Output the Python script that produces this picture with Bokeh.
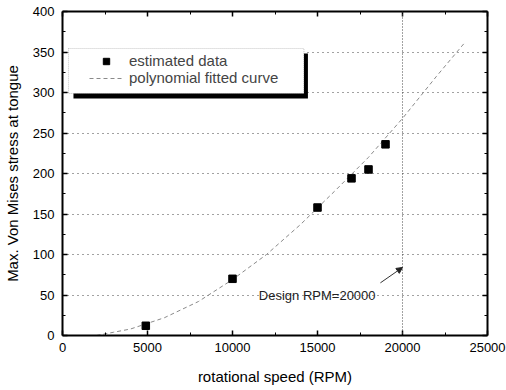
from bokeh.plotting import figure
from bokeh.models import (LinearAxis, FixedTicker, Legend, LegendItem, Span, Arrow,
                          NormalHead, Label, BoxAnnotation, Range1d, CustomJSTickFormatter)
from bokeh.embed import file_html
from bokeh.resources import INLINE

# ---- data ----
rpm = [4900, 10000, 15000, 17000, 18000, 19000]
stress = [12, 70, 158, 194, 205, 236]

fit_rpm = [2000, 3000, 4000, 6000, 8000, 10000, 12000, 14000, 16000, 18000, 20000, 22000, 23600]
fit_stress = [0, 4, 8, 22, 42, 69, 100, 137, 178, 220, 268, 320, 360]

x_ticks = [0, 5000, 10000, 15000, 20000, 25000]
x_minor = [2500, 7500, 12500, 17500, 22500]
y_ticks = [0, 50, 100, 150, 200, 250, 300, 350, 400]
y_minor = [25, 75, 125, 175, 225, 275, 325, 375]

design_rpm = 20000
design_label = "Design RPM=20000"
arrow_from = (18700, 65)
arrow_to = (20000, 84)
label_pos = (11550, 40)

FONT = "Liberation Sans"

p = figure(width=506, height=390, output_backend="svg", toolbar_location=None,
           x_range=Range1d(0, 25000), y_range=Range1d(0, 400),
           min_border_left=61, min_border_right=19, min_border_top=11, min_border_bottom=55,
           x_axis_label="rotational speed (RPM)",
           y_axis_label="Max. Von Mises stress at tongue")
p.outline_line_color = None
p.background_fill_color = "white"
p.border_fill_color = "white"

def style_axis(ax, ticks, minor, labels=True):
    ax.ticker = FixedTicker(ticks=ticks, minor_ticks=minor)
    ax.axis_line_color = "black"
    ax.axis_line_width = 2
    ax.major_tick_in = 5
    ax.major_tick_out = 0
    ax.minor_tick_in = 3
    ax.minor_tick_out = 0
    ax.major_tick_line_color = "black"
    ax.minor_tick_line_color = "black"
    ax.major_tick_line_width = 1.5
    ax.minor_tick_line_width = 1
    if labels:
        ax.major_label_text_font = FONT
        ax.major_label_text_font_size = "13px"
        ax.major_label_text_color = "black"
        ax.axis_label_text_font = FONT
        ax.axis_label_text_font_size = "15px"
        ax.axis_label_text_font_style = "normal"
        ax.axis_label_text_color = "black"
    else:
        ax.formatter = CustomJSTickFormatter(code="return ''")
        ax.major_label_standoff = 0

style_axis(p.xaxis[0], x_ticks, x_minor)
style_axis(p.yaxis[0], y_ticks, y_minor)
p.xaxis[0].major_label_standoff = 7
p.xaxis[0].axis_label_standoff = 13
p.yaxis[0].major_label_standoff = 8
p.yaxis[0].axis_label_standoff = 9

top = LinearAxis()
style_axis(top, x_ticks, x_minor, labels=False)
p.add_layout(top, "above")
right = LinearAxis()
style_axis(right, y_ticks, y_minor, labels=False)
p.add_layout(right, "right")

p.xgrid.visible = False
p.ygrid.grid_line_color = "#444444"
p.ygrid.grid_line_dash = "1 4"
p.ygrid.grid_line_width = 1

# design line
p.add_layout(Span(location=design_rpm, dimension="height", line_color="#444444",
                  line_dash="1 2", line_width=1))

curve = p.line(fit_rpm, fit_stress, line_color="#8a8a8a", line_width=1, line_dash="4 3")
pts = p.scatter(rpm, stress, marker="square", size=7.5, fill_color="black", line_color="black")

# annotation
p.add_layout(Arrow(end=NormalHead(size=6, fill_color="#222222", line_color="#222222"),
                   x_start=arrow_from[0], y_start=arrow_from[1],
                   x_end=arrow_to[0], y_end=arrow_to[1],
                   line_color="#333333", line_width=1))
p.add_layout(Label(x=label_pos[0], y=label_pos[1], text=design_label,
                   text_font=FONT, text_font_size="13px", text_color="#222222"))

# legend frame with shadow
p.add_layout(BoxAnnotation(left=645, right=14437, bottom=292.6, top=348.1,
                           fill_color="black", fill_alpha=1, line_color=None, level="overlay"))
p.add_layout(BoxAnnotation(left=352, right=14202, bottom=298.8, top=354.3,
                           fill_color="white", fill_alpha=1, line_color="#444444",
                           line_width=1, line_dash="1 1", level="overlay"))

legend = Legend(items=[LegendItem(label="estimated data", renderers=[pts]),
                       LegendItem(label="polynomial fitted curve", renderers=[curve])],
                location=(27, 249), padding=0, spacing=0, margin=0,
                label_height=16, glyph_height=16, glyph_width=34, label_standoff=6,
                label_text_font=FONT, label_text_font_size="15px",
                border_line_color=None, background_fill_alpha=0)
p.add_layout(legend, "center")

open("out.html", "w").write(file_html(p, INLINE))
